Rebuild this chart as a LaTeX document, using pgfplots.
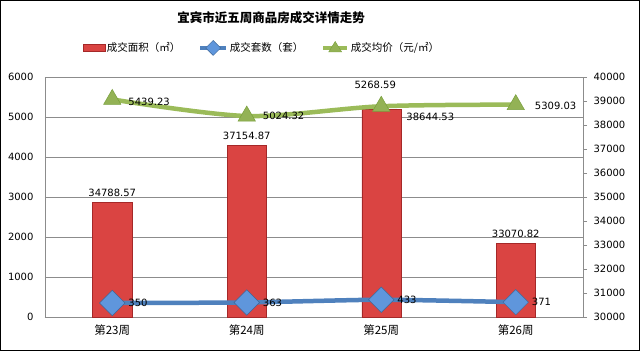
\documentclass[border=0pt]{standalone}
\usepackage{pgfplots}
\pgfplotsset{compat=1.18}
\usepackage{fontspec}
\setmainfont{DejaVu Sans}
\newfontfamily\cjk{Noto Sans CJK SC}
\definecolor{barred}{RGB}{218,68,66}
\definecolor{bardark}{RGB}{165,40,40}
\definecolor{lblue}{RGB}{79,129,189}
\definecolor{dblue}{RGB}{95,150,220}
\definecolor{lgreen}{RGB}{155,187,89}
\definecolor{dgreen}{RGB}{120,160,60}
\definecolor{gridgray}{RGB}{140,140,140}
\begin{document}
\begin{tikzpicture}
\path[use as bounding box] (-45pt,-34pt) rectangle (595pt,317pt);
\fill[white] (-45pt,-34pt) rectangle (595pt,317pt);
\pgfplotsset{
  common/.style={scale only axis, width=538pt, height=240pt, xmin=-0.5, xmax=3.5,
    /pgf/number format/assume math mode=true, /pgf/number format/1000 sep={},
    scaled y ticks=false, tick label style={font=\fontsize{10}{12}\selectfont}},
}
% axis A: left axis with grid
\begin{axis}[common, ymin=0, ymax=6000, ytick={0,1000,...,6000},
  xtick={0,1,2,3}, xticklabels={第23周,第24周,第25周,第26周},
  xticklabel style={font=\cjk\fontsize{11.5}{13}\selectfont, yshift=-4pt},
  ymajorgrids, grid style={gridgray, line width=0.7pt},
  axis x line*=bottom, axis y line*=left, axis line style={-, gridgray, line width=0.7pt},
  major tick length=0pt, yticklabel style={xshift=-8pt}]
\addplot[draw=none] coordinates {(0,0)};
\end{axis}
% axis B: right axis with bars
\begin{axis}[common, ymin=30000, ymax=40000, ytick={30000,31000,...,40000},
  axis y line*=right, axis x line=none, axis line style={-, gridgray, line width=0.7pt},
  tick align=outside, major tick length=4pt, tick style={gridgray},
  yticklabel style={xshift=3pt}]
\addplot[ybar, bar width=39pt, draw=bardark, line width=0.5pt, fill=barred]
  coordinates {(0,34788.57) (1,37154.87) (2,38644.53) (3,33070.82)};
\node[anchor=south, font=\fontsize{10}{12}\selectfont, inner sep=1pt] at (axis cs:0,34788.57) [yshift=4pt] {34788.57};
\node[anchor=south, font=\fontsize{10}{12}\selectfont, inner sep=1pt] at (axis cs:1,37154.87) [yshift=4pt] {37154.87};
\node[anchor=west, font=\fontsize{10}{12}\selectfont, inner sep=1pt] at (axis cs:2,38644.53) [xshift=24pt, yshift=-7pt] {38644.53};
\node[anchor=south, font=\fontsize{10}{12}\selectfont, inner sep=1pt] at (axis cs:3,33070.82) [yshift=4pt] {33070.82};
\end{axis}
% axis C: lines
\begin{axis}[common, ymin=0, ymax=6000, hide axis, clip=false,
  legend style={at={(0.403,1.121)}, anchor=center, draw=none, fill=none,
    legend columns=3, font=\cjk\fontsize{10.5}{13}\selectfont,
    /tikz/every even column/.append style={column sep=16pt}}]
\addlegendimage{legend image code/.code={\draw[draw=bardark, fill=barred] (0pt,-3.5pt) rectangle (22pt,3.5pt);}}
\addlegendentry{成交面积（㎡）}
\addplot[lblue, line width=4.5pt, smooth, tension=0.3, mark=square*, mark size=9pt,
  mark options={solid, rotate=45, line width=0.5pt, draw=lblue!80!black, fill=dblue},
  legend image code/.code={\draw[lblue, line width=3.5pt] (0pt,0pt)--(26pt,0pt); \draw[fill=dblue, draw=lblue!80!black, line width=0.4pt] (13pt,7.5pt)--(20.5pt,0pt)--(13pt,-7.5pt)--(5.5pt,0pt)--cycle;}]
  coordinates {(0,350) (1,363) (2,433) (3,371)};
\addlegendentry{成交套数（套）}
\addplot[lgreen, line width=4.5pt, smooth, tension=0.5, mark=triangle*, mark size=10pt,
  mark options={solid, line width=0.5pt, draw=dgreen, fill=lgreen!95!black},
  legend image code/.code={\draw[lgreen, line width=3.5pt] (0pt,0pt)--(24pt,0pt); \draw[fill=lgreen!95!black, draw=dgreen, line width=0.4pt] (12pt,6.5pt)--(18.5pt,-4pt)--(5.5pt,-4pt)--cycle;}]
  coordinates {(0,5439.23) (1,5024.32) (2,5268.59) (3,5309.03)};
\addlegendentry{成交均价（元/㎡）}
\node[anchor=west, font=\fontsize{10}{12}\selectfont, inner sep=1pt] at (axis cs:0,5439.23) [xshift=15pt, yshift=-2pt] {5439.23};
\node[anchor=west, font=\fontsize{10}{12}\selectfont, inner sep=1pt] at (axis cs:1,5024.32) [xshift=15pt] {5024.32};
\node[anchor=south, font=\fontsize{10}{12}\selectfont, inner sep=1pt] at (axis cs:2,5268.59) [xshift=-6pt, yshift=16pt] {5268.59};
\node[anchor=west, font=\fontsize{10}{12}\selectfont, inner sep=1pt] at (axis cs:3,5309.03) [xshift=18pt, yshift=-1pt] {5309.03};
\node[anchor=west, font=\fontsize{10}{12}\selectfont, inner sep=1pt] at (axis cs:0,350) [xshift=15pt] {350};
\node[anchor=west, font=\fontsize{10}{12}\selectfont, inner sep=1pt] at (axis cs:1,363) [xshift=15pt] {363};
\node[anchor=west, font=\fontsize{10}{12}\selectfont, inner sep=1pt] at (axis cs:2,433) [xshift=15pt] {433};
\node[anchor=west, font=\fontsize{10}{12}\selectfont, inner sep=1pt] at (axis cs:3,371) [xshift=15pt] {371};
\end{axis}
\node[font=\cjk\bfseries\fontsize{12.5}{14}\selectfont] at (226pt,299pt) {宜宾市近五周商品房成交详情走势};
\draw[black, line width=1pt] (-44.5pt,-33.5pt) rectangle (594.5pt,316.5pt);
\end{tikzpicture}
\end{document}
